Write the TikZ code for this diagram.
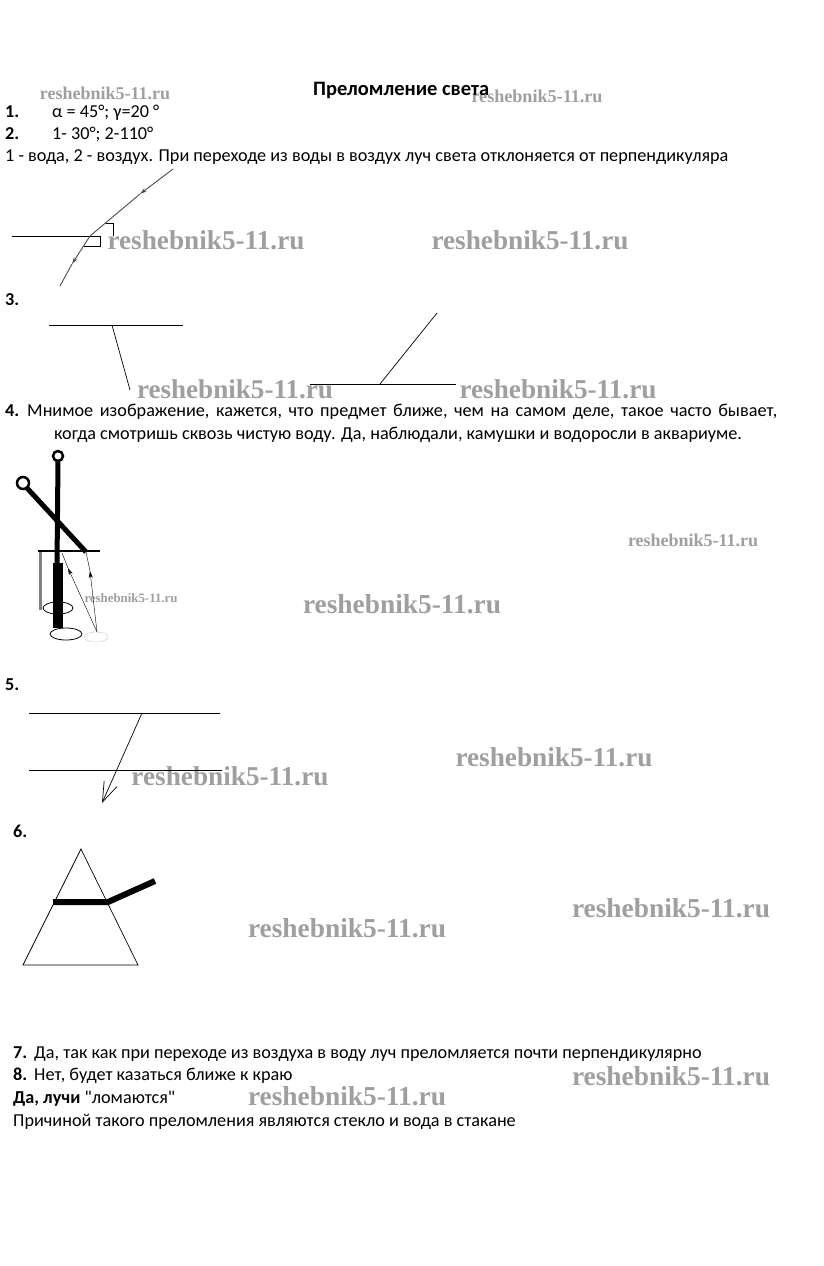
\documentclass[tikz,border=0pt]{standalone}
\usepackage{fontspec}
\setmainfont{Carlito}
\newfontfamily\wmfont{Liberation Serif}
\usepackage{graphicx}
\usetikzlibrary{arrows.meta}

\newcommand{\wmark}[1]{\resizebox{#1}{!}{\wmfont\bfseries reshebnik5-11.ru}}

\tikzset{
	txt/.style={anchor=base west, inner sep=0pt, font=\fontsize{18.2}{21}\selectfont},
	num/.style={txt, font=\fontsize{18.2}{21}\selectfont\bfseries},
	wm/.style={inner sep=0pt, text=gray!75},
	ray/.style={line width=0.9pt, gray!60!black},
	tip/.style={-{Stealth[length=7pt,width=4pt]}},
}

\begin{document}
\begin{tikzpicture}[x=1pt,y=-1pt]
	\useasboundingbox (0,0) rectangle (823,1266);
	\fill[white] (0,0) rectangle (823,1266);

	% Watermarks
	\foreach \x/\y/\w in {105/93/130pt, 537/96/131pt, 206/240/197pt, 530/240/197pt,
		235/389/196pt, 558/389/197pt, 693/540/130pt, 131/598/93pt, 402/604/198pt,
		230/776/197pt, 554/757/197pt, 347/928/198pt, 671/908/198pt,
		671/1076/198pt, 347/1096/198pt}
		\node[wm] at (\x,\y) {\wmark{\w}};

	% Title and answers 1, 2
	\node[txt, font=\fontsize{20.5}{24}\selectfont\bfseries] (title) at (313,95) {Преломление света};
	\node[num] (n1) at (5,117) {1.};
	\node[txt] (a1) at (52,117) {α = 45°; γ=20 °};
	\node[num] (n2) at (5,139) {2.};
	\node[txt] (a2) at (52,139) {1- 30°; 2-110°};
	\node[txt] (a2b) at (5,161) {1 - вода, 2 - воздух. При переходе из воды в воздух луч света отклоняется от перпендикуляра};

	% Draw refraction, water to air
	\draw[line width=0.7pt] (12,236) -- (100,236);
	\draw[ray,tip] (173,169) -- (140,194);
	\draw[ray] (140,194) -- (90,236);
	\draw[ray,tip] (90,236) -- (72,264);
	\draw[ray] (72,264) -- (60,286);
	\draw[line width=0.6pt] (106,223) -- (113,223) -- (113,236);
	\draw[line width=0.6pt] (84,246) -- (100,246) -- (100,236);

	% Answer 3
	\node[num] (n3) at (5,305) {3.};
	\draw[line width=0.7pt] (49,325) -- (183,325);
	\draw[line width=0.7pt] (112,325) -- (130,390);
	\draw[line width=0.7pt] (310,384) -- (456,384);
	\draw[line width=0.7pt] (380,384) -- (437,313);

	% Answer 4
	\node[num] (n4) at (5,416) {4.};
	\node[txt] (a4) at (27,416) {\spaceskip=6.6pt Мнимое изображение, кажется, что предмет ближе, чем на самом деле, такое часто бывает,};
	\node[txt, anchor=base] (a4b) at (398,439) {когда смотришь сквозь чистую воду. Да, наблюдали, камушки и водоросли в аквариуме.};

	% Draw vessel and pins
	\draw[gray, line width=3pt] (40,551) -- (40,610);
	\draw[line width=1.2pt] (38,551) -- (100,551);
	\fill (53,563) rectangle (63,628);
	\draw[line width=5pt] (58,461) -- (57,565);
	\draw[line width=5pt] (27,488) -- (86,552);
	\draw[line width=2.5pt] (58,456) circle (5);
	\draw[line width=2.5pt] (23,483) circle (6);
	\draw[thin,tip] (97,632) -- (68,568);
	\draw[thin] (68,568) -- (62,553);
	\draw[thin,tip] (97,632) -- (90,571);
	\draw[thin] (90,571) -- (86,552);
	\draw[thick] (58,608) ellipse (15 and 6);
	\draw[thick, fill=white] (66,634) ellipse (16 and 6);
	\draw[gray!40] (96,637) ellipse (12 and 5);

	% Answer 5
	\node[num] (n5) at (5,690) {5.};
	\draw[line width=1pt] (29,713) -- (220,713);
	\draw[line width=1pt] (29,770) -- (222,770);
	\draw[line width=0.7pt, -{Straight Barb[length=20pt,width=14pt]}] (142,713) -- (102,803);

	% Answer 6
	\node[num] (n6) at (13,837) {6.};
	\draw[line width=0.7pt] (81,849) -- (23,965) -- (138,965) -- cycle;
	\draw[line width=6pt] (53,902) -- (108,902) -- (155,881);

	% Answers 7, 8
	\node[num] (n7) at (13,1058) {7.};
	\node[txt] (a7) at (34,1058) {Да, так как при переходе из воздуха в воду луч преломляется почти перпендикулярно};
	\node[num] (n8) at (13,1080) {8.};
	\node[txt] (a8) at (34,1080) {Нет, будет казаться ближе к краю};
	\node[txt] (a8b) at (13,1103) {\textbf{Да, лучи} \textquotedbl ломаются\textquotedbl};
	\node[txt] (a8c) at (13,1126) {Причиной такого преломления являются стекло и вода в стакане};

\end{tikzpicture}
\end{document}
